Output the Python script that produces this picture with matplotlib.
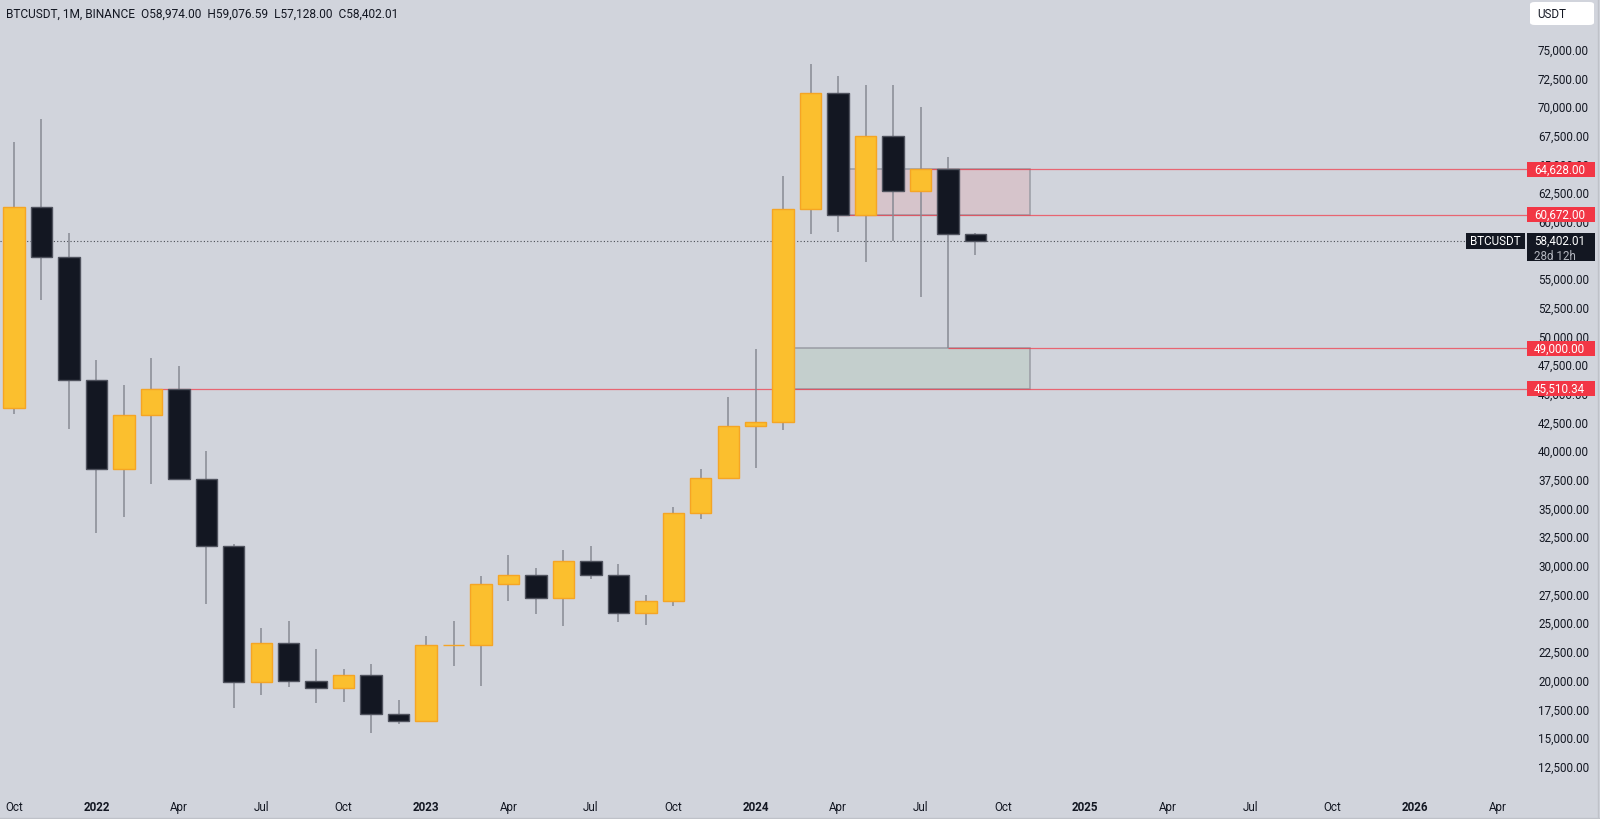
import numpy as np
import matplotlib.pyplot as plt
from matplotlib.patches import Rectangle, FancyBboxPatch

plt.rcParams['font.family'] = ['Roboto', 'DejaVu Sans']

# monthly BTCUSDT candles, Oct 2021 .. Sep 2024
months = ['2021-10', '2021-11', '2021-12', '2022-01', '2022-02', '2022-03', '2022-04', '2022-05',
          '2022-06', '2022-07', '2022-08', '2022-09', '2022-10', '2022-11', '2022-12', '2023-01',
          '2023-02', '2023-03', '2023-04', '2023-05', '2023-06', '2023-07', '2023-08', '2023-09',
          '2023-10', '2023-11', '2023-12', '2024-01', '2024-02', '2024-03', '2024-04', '2024-05',
          '2024-06', '2024-07', '2024-08', '2024-09']
opens = [43820, 61300, 56950, 46216, 38466, 43160, 45510, 37630, 31801, 19942, 23296, 20048,
         19422, 20490, 17165, 16541, 23125, 23142, 28465, 29233, 27210, 30472, 29232, 25941,
         26962, 34639, 37724, 42283, 42580, 61131, 71280, 60672, 67540, 62772, 64628, 58974]
highs = [66999, 69000, 59053, 47990, 45821, 48190, 47444, 40023, 31982, 24668, 25211, 22799,
         21085, 21480, 18387, 23960, 25250, 29184, 31000, 29820, 31431, 31804, 30176, 27488,
         35198, 38450, 44729, 48969, 64000, 73777, 72797, 71979, 71997, 70079, 65659, 59076.59]
lows = [43283, 53256, 42000, 32917, 34322, 37155, 37578, 26700, 17622, 18781, 19520, 18125,
        18190, 15476, 16256, 16499, 21351, 19549, 26942, 25811, 24800, 28861, 25166, 24901,
        26538, 34097, 37618, 38555, 41884, 59005, 59191, 56552, 58402, 53485, 49000, 57128]
closes = [61300, 56950, 46216, 38466, 43160, 45510, 37630, 31801, 19942, 23293, 20050, 19422,
          20490, 17164, 16542, 23125, 23142, 28465, 29233, 27210, 30472, 29232, 25940, 26962,
          34639, 37724, 42283, 42580, 61130, 71280, 60672, 67540, 62772, 64628, 58974, 58402.01]

time_labels = ['Oct', '2022', 'Apr', 'Jul', 'Oct', '2023', 'Apr', 'Jul', 'Oct', '2024',
               'Apr', 'Jul', 'Oct', '2025', 'Apr', 'Jul', 'Oct', '2026', 'Apr']
# 57,500 sits fully under the last-price tag, so it is left out
price_ticks = [12500, 15000, 17500, 20000, 22500, 25000, 27500, 30000, 32500, 35000, 37500,
               40000, 42500, 45000, 47500, 50000, 52500, 55000, 60000, 62500, 65000,
               67500, 70000, 72500, 75000]

# horizontal levels and the month they start from
levels = [64628.00, 60672.00, 49000.00, 45510.34]
level_from = ['2024-07', '2024-04', '2024-08', '2022-03']
last_price = 58402.01
countdown = '28d 12h'
header = 'BTCUSDT, 1M, BINANCE  O58,974.00  H59,076.59  L57,128.00  C58,402.01'

# rectangles: (low, high, from month index, to month index)
supply_zone = (60672.00, 64628.00, 30.3, 37.0)
demand_zone = (45510.34, 49000.00, 28.35, 37.0)

BG = '#d1d4dc'
UP = '#fbbf2e'
UP_EDGE = '#f5a524'
DOWN = '#131722'
DOWN_EDGE = '#50535e'
WICK = '#878a93'
RED = '#f23645'
TXT = '#131722'

W, H = 1600, 820
PANE_R = 1526
x0, dx = 14.0, 27.47
px_per_unit = 0.011469
y75 = 51.3
FS = 8.4

fig = plt.figure(figsize=(W / 100, H / 100), dpi=100, facecolor=BG)
ax = fig.add_axes([0, 0, PANE_R / W, 1])
ax.set_facecolor(BG)
ax.set_xlim(-x0 / dx, (PANE_R - x0) / dx)
ax.set_ylim(75000 - (H - y75) / px_per_unit, 75000 + y75 / px_per_unit)
for s in ax.spines.values():
    s.set_visible(False)
ax.set_xticks([])
ax.set_yticks([])

x = np.arange(len(months))
o = np.array(opens, dtype=float)
c = np.array(closes, dtype=float)
up = c >= o

# zones
for lo, hi, a, b in [supply_zone, demand_zone]:
    fc = '#d6c4cb' if lo > 55000 else '#c4cfcd'
    ax.add_patch(Rectangle((a, lo), b - a, hi - lo, facecolor=fc, edgecolor='#9a9ca4',
                           lw=1.1, zorder=1))

# level lines
xmax = (1527 - x0) / dx
for lv, m in zip(levels, level_from):
    ax.hlines(lv, months.index(m), xmax, color=RED, lw=0.9, alpha=0.7, zorder=1.5, clip_on=False)

# last price dotted line
ax.hlines(last_price, ax.get_xlim()[0], (1466 - x0) / dx, color='#4a4d55', lw=0.8,
          linestyles=(0, (1, 2)), zorder=1.6)

# candles
ax.vlines(x, lows, highs, color=WICK, lw=1.1, zorder=2)
ax.bar(x[up], (c - o)[up], bottom=o[up], width=0.78, color=UP, edgecolor=UP_EDGE, lw=1, zorder=3)
ax.bar(x[~up], (o - c)[~up], bottom=c[~up], width=0.78, color=DOWN, edgecolor=DOWN_EDGE, lw=1, zorder=3)

# price scale
ytr = ax.get_yaxis_transform()
for p in price_ticks:
    ax.text(1589 / PANE_R, p, f'{p:,.2f}', transform=ytr, ha='right', va='center',
            fontsize=FS, color=TXT, clip_on=False, zorder=3)

box_h = 15 / px_per_unit
for lv in levels:
    ax.add_patch(Rectangle((1527 / PANE_R, lv - box_h / 2), 68 / PANE_R, box_h, transform=ytr,
                           facecolor=RED, edgecolor='none', clip_on=False, zorder=5))
    ax.text(1534 / PANE_R, lv, f'{lv:,.2f}', transform=ytr, ha='left', va='center',
            fontsize=FS, color='white', clip_on=False, zorder=6)

top = last_price + 7.7 / px_per_unit
ax.add_patch(Rectangle((1466 / PANE_R, top - 15.7 / px_per_unit), 59 / PANE_R, 15.7 / px_per_unit,
                       transform=ytr, facecolor=DOWN, edgecolor='none', clip_on=False, zorder=5))
ax.text(1470 / PANE_R, last_price, 'BTCUSDT', transform=ytr, ha='left', va='center',
        fontsize=FS, color='white', clip_on=False, zorder=6)
ax.add_patch(Rectangle((1527 / PANE_R, top - 28.4 / px_per_unit), 68 / PANE_R, 28.4 / px_per_unit,
                       transform=ytr, facecolor=DOWN, edgecolor='none', clip_on=False, zorder=5))
ax.text(1534 / PANE_R, last_price, f'{last_price:,.2f}', transform=ytr, ha='left', va='center',
        fontsize=FS, color='white', clip_on=False, zorder=6)
ax.text(1534 / PANE_R, last_price - 14.5 / px_per_unit, countdown, transform=ytr, ha='left',
        va='center', fontsize=FS, color='#b2b5be', clip_on=False, zorder=6)

# time scale
xtr = ax.get_xaxis_transform()
for i, lab in enumerate(time_labels):
    ax.text(i * 3, 1 - 808 / H, lab, transform=xtr, ha='center', va='center', fontsize=FS,
            color=TXT, fontweight='bold' if lab.isdigit() else 'normal', clip_on=False)

# header and currency button
fig.text(6 / W, 1 - 14 / H, header, ha='left', va='center', fontsize=8.6, color=TXT)
fig.add_artist(FancyBboxPatch((1530 / W, 1 - 26 / H), 64 / W, 23 / H,
                              boxstyle='round,pad=0,rounding_size=0.003', transform=fig.transFigure,
                              facecolor='white', edgecolor='none'))
fig.text(1537 / W, 1 - 14.5 / H, 'USDT', ha='left', va='center', fontsize=FS, color=TXT)

fig.add_artist(plt.Line2D([0, 1], [1.5 / H, 1.5 / H], color='#bfc2c9', lw=1))
fig.add_artist(plt.Line2D([1 - 2.5 / W, 1 - 2.5 / W], [0, 1], color='#bfc2c9', lw=1))

fig.savefig('out.png', dpi=100, facecolor=BG)
